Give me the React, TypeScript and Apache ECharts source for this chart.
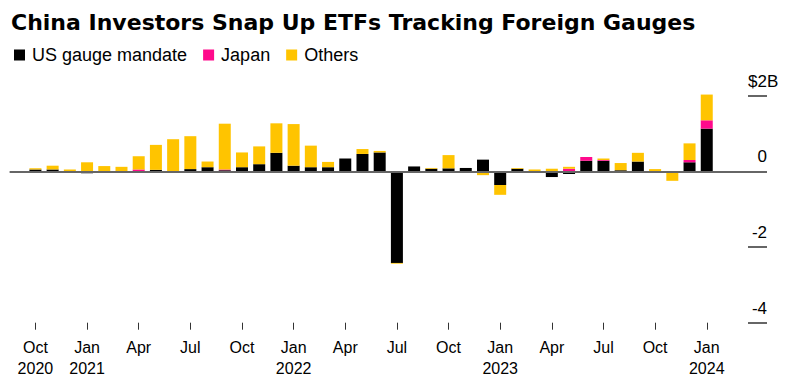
import React, { useEffect, useRef } from "react";
import * as echarts from "echarts";

// Monthly values, Oct 2020 .. Jan 2024 ($ billions)
const dataMonths: string[] = (() => {
  const out: string[] = [];
  let y = 2020, m = 10;
  while (y < 2024 || (y === 2024 && m <= 1)) {
    out.push(`${y}-${String(m).padStart(2, "0")}`);
    m++;
    if (m > 12) { m = 1; y++; }
  }
  return out;
})();

const usGauge = [
  0.05, 0.05, 0.0, -0.05, 0.01, 0.01, 0.01, 0.04, -0.03, 0.06, 0.11, 0.03,
  0.11, 0.19, 0.49, 0.15, 0.11, 0.11, 0.34, 0.46, 0.5, -2.42, 0.13, 0.07,
  0.08, 0.09, 0.31, -0.36, 0.07, 0.0, -0.15, -0.07, 0.28, 0.28, 0.03, 0.26,
  0.0, -0.02, 0.24, 1.13,
];
const japan = [
  0, 0, 0, 0, 0, 0, 0.04, 0, 0, 0, 0, 0.02,
  0, 0, 0, 0, 0, 0, 0, 0, 0, 0, 0, 0,
  0, 0, 0, 0, 0, 0, 0, 0.07, 0.1, 0.02, 0, 0,
  -0.02, -0.01, 0.06, 0.22,
];
const others = [
  0.03, 0.1, 0.05, 0.24, 0.13, 0.11, 0.35, 0.66, 0.85, 0.87, 0.15, 1.21,
  0.39, 0.47, 0.78, 1.1, 0.57, 0.14, -0.03, 0.13, 0.04, -0.02, 0.0, 0.02,
  0.35, -0.01, -0.1, -0.26, 0.02, 0.05, 0.07, 0.05, -0.01, 0.04, 0.19, 0.23,
  0.06, -0.22, 0.44, 0.68,
];

const seriesNames = ["US gauge mandate", "Japan", "Others"];
const seriesColors = ["#000000", "#ff0a8c", "#ffc400"];

const tickMonths = [
  "2020-10", "2021-01", "2021-04", "2021-07", "2021-10", "2022-01", "2022-04",
  "2022-07", "2022-10", "2023-01", "2023-04", "2023-07", "2023-10", "2024-01",
];
const tickLabels = [
  "Oct\n2020", "Jan\n2021", "Apr", "Jul", "Oct", "Jan\n2022", "Apr",
  "Jul", "Oct", "Jan\n2023", "Apr", "Jul", "Oct", "Jan\n2024",
];

const yTicks = [-4, -2, 0, 2];
const yTopLabel = "$2B";

const padBefore = ["2020-09"];
const padAfter = ["2024-02", "2024-03", "2024-04"];

const FONT = "'Liberation Sans', Arial, Helvetica, sans-serif";
const TITLE_FONT = "'DejaVu Sans', 'Liberation Sans', Arial, sans-serif";

export default function App() {
  const ref = useRef<HTMLDivElement>(null);
  useEffect(() => {
    if (!ref.current) return;
    const chart = echarts.init(ref.current, undefined, { renderer: "svg" });
    const categories = [...padBefore, ...dataMonths, ...padAfter];
    const pad = (arr: number[]) => [
      ...padBefore.map(() => null),
      ...arr,
      ...padAfter.map(() => null),
    ];
    const labelMap: Record<string, string> = {};
    tickMonths.forEach((m, i) => (labelMap[m] = tickLabels[i]));
    const isTick = (_i: number, v: string) => labelMap[v] !== undefined;
    const values = [usGauge, japan, others];
    const yMin = yTicks[0];
    const yMax = yTicks[yTicks.length - 1];

    const baseY = {
      type: "value",
      position: "right",
      min: yMin,
      max: yMax,
      interval: 2,
      axisLine: { show: false },
      splitLine: { show: false },
    };

    chart.setOption({
      animation: false,
      textStyle: { fontFamily: FONT },
      title: {
        text: "China Investors Snap Up ETFs Tracking Foreign Gauges",
        left: 11,
        top: 11,
        padding: 0,
        textStyle: { fontSize: 22, fontWeight: "bold", color: "#000", fontFamily: TITLE_FONT },
      },
      legend: {
        left: 14,
        top: 46,
        padding: 0,
        icon: "rect",
        itemWidth: 11,
        itemHeight: 11,
        itemGap: 16,
        selectedMode: false,
        data: seriesNames,
        textStyle: { fontSize: 18, color: "#000", fontFamily: FONT, padding: [0, 0, 0, 2] },
      },
      grid: { left: 9.6, right: 23, top: 95.7, bottom: 67.3, containLabel: false },
      xAxis: {
        type: "category",
        data: categories,
        boundaryGap: true,
        axisLine: { show: false, onZero: false },
        axisTick: {
          show: true,
          alignWithLabel: true,
          interval: isTick,
          length: 7,
          lineStyle: { color: "#333", width: 1 },
        },
        axisLabel: {
          interval: isTick,
          formatter: (v: string) => labelMap[v] ?? "",
          fontSize: 16,
          lineHeight: 21,
          color: "#000",
          margin: 14,
          fontFamily: FONT,
        },
        splitLine: { show: false },
      },
      yAxis: [
        {
          ...baseY,
          axisTick: { show: true, inside: true, length: 19, lineStyle: { color: "#666", width: 2 } },
          axisLabel: {
            inside: true,
            margin: 0,
            fontSize: 17,
            color: "#000",
            verticalAlign: "bottom",
            padding: [0, 0, 6, 0],
            fontFamily: FONT,
            formatter: (v: number) => (v === yMax ? "" : String(v)),
          },
        },
        {
          ...baseY,
          axisTick: { show: false },
          axisLabel: {
            inside: true,
            margin: 19,
            align: "left",
            fontSize: 17,
            color: "#000",
            verticalAlign: "bottom",
            padding: [0, 0, 6, 0],
            fontFamily: FONT,
            formatter: (v: number) => (v === yMax ? yTopLabel : ""),
          },
        },
      ],
      series: values.map((arr, i) => ({
        name: seriesNames[i],
        type: "bar",
        stack: "total",
        barWidth: 12,
        clip: false,
        yAxisIndex: 0,
        data: pad(arr),
        itemStyle: { color: seriesColors[i] },
        emphasis: { disabled: true },
        ...(i === values.length - 1
          ? {
              markLine: {
                silent: true,
                symbol: ["none", "none"],
                label: { show: false },
                lineStyle: { color: "#666", width: 2, type: "solid" },
                data: [{ yAxis: 0 }],
              },
            }
          : {}),
      })),
    });
    return () => chart.dispose();
  }, []);
  return (
    <div
      ref={ref}
      style={{ position: "fixed", left: 0, top: 0, width: 790, height: 390, background: "#fff" }}
    />
  );
}
